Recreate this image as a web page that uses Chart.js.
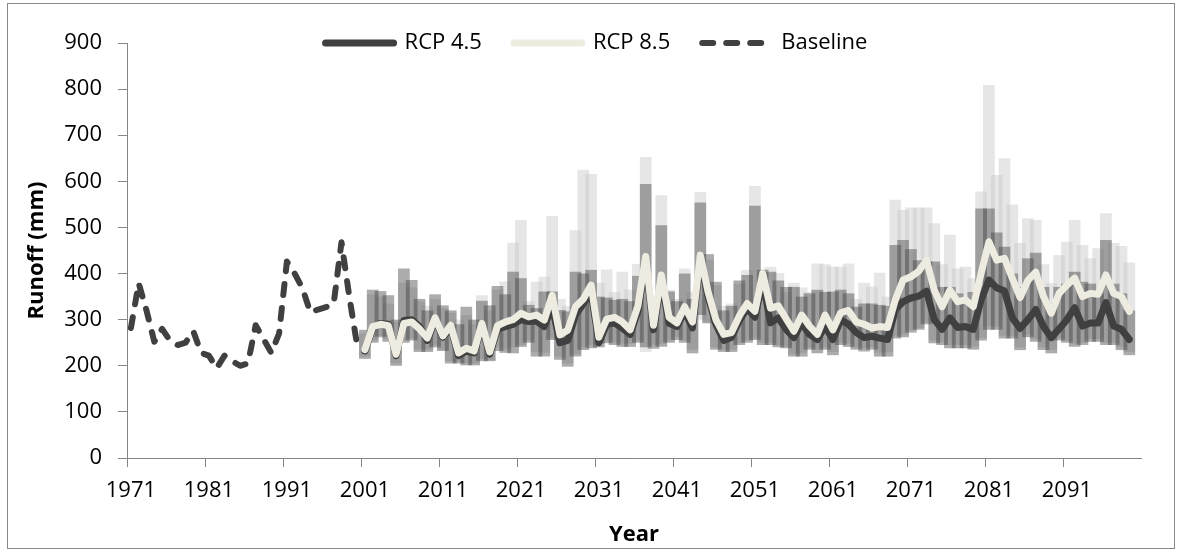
<!DOCTYPE html>
<html lang="en">
<head>
<meta charset="UTF-8">
<title>Runoff projections</title>
<script src="https://cdn.jsdelivr.net/npm/chart.js"></script>
<style>
    body { margin: 0; background: #fff; }
    #wrap { width: 1178px; height: 552px; }
</style>
</head>
<body>
<div id="wrap"><canvas id="chart-runoff"></canvas></div>
<script>
    // categories: 1971 .. 2100
    const years = Array.from({ length: 130 }, (_, i) => 1971 + i);

    // observed baseline 1971-2000
    const baseline = [282, 379, 320, 252, 280, 255, 245, 250, 275, 228,
                      222, 195, 222, 210, 200, 205, 288, 258, 228, 270,
                      426, 400, 368, 316, 322, 327, 335, 468, 350, 245];

    // ensemble means 2001-2099
    const rcp45 = [232, 282, 292, 290, 222, 298, 300, 285, 255, 300,
                   262, 284, 222, 232, 228, 288, 225, 280, 285, 290,
                   300, 296, 297, 285, 330, 250, 255, 310, 335, 360,
                   250, 290, 293, 282, 268, 318, 425, 278, 385, 292,
                   285, 318, 282, 430, 350, 290, 255, 262, 298, 325,
                   305, 385, 293, 304, 279, 261, 293, 268, 257, 286,
                   257, 300, 290, 272, 261, 264, 260, 257, 322, 339,
                   347, 351, 362, 300, 279, 304, 283, 285, 279, 343,
                   386, 369, 362, 304, 281, 300, 322, 285, 261, 280,
                   300, 326, 286, 293, 293, 337, 286, 279, 257];
    const rcp85 = [235, 285, 290, 287, 225, 292, 295, 280, 260, 304,
                   265, 288, 228, 238, 232, 292, 230, 287, 295, 300,
                   314, 306, 310, 299, 353, 267, 277, 328, 345, 375,
                   262, 301, 305, 295, 278, 330, 437, 288, 397, 305,
                   293, 328, 295, 440, 360, 300, 268, 272, 308, 335,
                   318, 400, 325, 330, 302, 275, 310, 286, 268, 310,
                   278, 315, 320, 295, 290, 282, 285, 283, 343, 386,
                   393, 405, 429, 364, 328, 364, 339, 343, 328, 400,
                   469, 429, 433, 390, 348, 385, 403, 350, 314, 357,
                   375, 390, 350, 357, 355, 397, 357, 350, 318];

    // model ranges 2001-2099
    const rcp45Min = [215, 250, 263, 252, 200, 250, 255, 230, 230, 240,
                      232, 205, 205, 201, 201, 210, 210, 232, 228, 227,
                      241, 250, 220, 220, 256, 213, 198, 220, 234, 238,
                      240, 249, 245, 241, 241, 250, 240, 237, 241, 250,
                      256, 250, 227, 310, 292, 235, 230, 230, 245, 250,
                      256, 245, 245, 240, 238, 220, 220, 235, 227, 235,
                      223, 245, 241, 235, 231, 235, 220, 220, 259, 262,
                      272, 278, 290, 249, 245, 238, 238, 238, 235, 255,
                      278, 278, 259, 259, 234, 262, 252, 234, 227, 255,
                      250, 241, 245, 252, 252, 245, 245, 234, 223];
    const rcp45Max = [278, 365, 362, 353, 300, 411, 386, 345, 320, 355,
                      331, 320, 290, 328, 300, 341, 331, 373, 355, 404,
                      390, 332, 325, 361, 361, 321, 318, 404, 400, 408,
                      350, 348, 343, 345, 340, 395, 594, 330, 505, 361,
                      340, 400, 345, 554, 442, 382, 320, 330, 385, 397,
                      547, 408, 404, 385, 371, 371, 350, 357, 365, 360,
                      361, 365, 357, 328, 335, 335, 332, 330, 462, 473,
                      453, 429, 426, 426, 371, 371, 357, 343, 360, 541,
                      541, 489, 458, 400, 371, 433, 445, 371, 335, 371,
                      378, 404, 382, 378, 357, 473, 378, 357, 320];
    const rcp85Min = [220, 255, 260, 258, 205, 255, 260, 235, 235, 245,
                      235, 210, 208, 205, 205, 215, 212, 240, 235, 240,
                      245, 255, 230, 228, 260, 220, 205, 225, 240, 245,
                      248, 255, 250, 248, 248, 255, 230, 245, 248, 255,
                      262, 255, 235, 300, 295, 240, 235, 235, 250, 255,
                      260, 250, 250, 245, 242, 225, 228, 240, 235, 240,
                      230, 250, 248, 240, 238, 240, 228, 230, 265, 268,
                      278, 282, 295, 255, 250, 245, 245, 245, 242, 260,
                      285, 285, 265, 265, 240, 268, 258, 240, 235, 260,
                      255, 248, 250, 258, 258, 250, 250, 240, 230];
    const rcp85Max = [270, 355, 350, 335, 295, 380, 370, 340, 330, 345,
                      325, 315, 300, 310, 290, 353, 320, 365, 383, 467,
                      516, 340, 382, 393, 525, 345, 330, 494, 625, 616,
                      380, 409, 360, 404, 365, 421, 653, 340, 570, 365,
                      345, 411, 360, 577, 430, 375, 330, 335, 378, 408,
                      590, 400, 415, 401, 360, 380, 370, 360, 422, 420,
                      415, 415, 422, 345, 380, 372, 402, 350, 560, 538,
                      543, 543, 543, 509, 420, 484, 411, 415, 390, 578,
                      809, 614, 650, 549, 466, 520, 516, 420, 379, 440,
                      469, 516, 462, 433, 455, 531, 466, 460, 424];

    const AXIS = '#868686';
    const DARK = '#404040';
    const CREAM = '#EEECE1';
    const LEGEND_SHIFT = 26;

    // place a series on the full year axis
    function onYears(values, firstYear) {
        const out = years.map(() => null);
        values.forEach((v, i) => { out[firstYear - 1971 + i] = v; });
        return out;
    }
    function ranges(lo, hi) {
        return onYears(lo.map((v, i) => [v, hi[i]]), 2001);
    }

    Chart.defaults.font.family = "'Open Sans', sans-serif";
    Chart.defaults.color = '#000';

    // legend sits over the top of the plot, like the original
    const frame = {
        id: 'frame',
        beforeInit(chart) {
            const lg = chart.legend;
            const fit = lg.fit;
            lg.fit = function () { fit.call(this); this.height = 43; };
            const draw = lg.draw;
            lg.draw = function () {
                const c = this.ctx;
                const bottom = this.bottom;
                this.bottom = bottom + 40;
                c.save();
                c.translate(LEGEND_SHIFT, 0);
                draw.call(this);
                c.restore();
                this.bottom = bottom;
            };
        },
        beforeDraw(chart) {
            const c = chart.ctx;
            c.save();
            c.fillStyle = '#fff';
            c.fillRect(0, 0, chart.width, chart.height);
            c.strokeStyle = '#898989';
            c.lineWidth = 1;
            c.strokeRect(7.5, 3.5, 1167, 545);
            c.restore();
        }
    };

    const lineStyle = { type: 'line', pointRadius: 0, pointHoverRadius: 0, tension: 0,
                        borderCapStyle: 'round', borderJoinStyle: 'round', spanGaps: false };
    const barStyle = { type: 'bar', grouped: false, categoryPercentage: 1, barPercentage: 1.5, borderWidth: 0 };

    new Chart(document.getElementById('chart-runoff'), {
        type: 'bar',
        data: {
            labels: years,
            datasets: [
                { ...lineStyle, label: 'RCP 4.5', data: onYears(rcp45, 2001), borderColor: DARK, backgroundColor: DARK, borderWidth: 7, order: 1 },
                { ...lineStyle, label: 'RCP 8.5', data: onYears(rcp85, 2001), borderColor: CREAM, backgroundColor: CREAM, borderWidth: 7, order: 0 },
                { ...lineStyle, label: 'Baseline', data: onYears(baseline, 1971), borderColor: DARK, backgroundColor: DARK, borderWidth: 6, borderDash: [11, 13], order: 1 },
                { ...barStyle, label: 'RCP 4.5 range', data: ranges(rcp45Min, rcp45Max), backgroundColor: 'rgba(70,70,70,0.45)', order: 2 },
                { ...barStyle, label: 'RCP 8.5 range', data: ranges(rcp85Min, rcp85Max), backgroundColor: 'rgba(200,200,200,0.45)', order: 3 }
            ]
        },
        options: {
            responsive: true,
            maintainAspectRatio: false,
            animation: false,
            layout: { padding: { left: 0, right: 37, top: 0, bottom: 0 } },
            plugins: {
                tooltip: { enabled: false },
                legend: {
                    position: 'top',
                    labels: {
                        usePointStyle: true,
                        pointStyleWidth: 68,
                        padding: 32,
                        color: '#000',
                        font: { size: 22 },
                        generateLabels: chart => chart.data.datasets.slice(0, 3).map((ds, i) => ({
                            text: ds.label,
                            fillStyle: ds.borderColor,
                            strokeStyle: ds.borderColor,
                            lineWidth: ds.borderWidth,
                            lineDash: ds.borderDash || [],
                            lineCap: 'round',
                            pointStyle: 'line',
                            hidden: false,
                            datasetIndex: i,
                            fontColor: '#000'
                        }))
                    }
                }
            },
            scales: {
                x: {
                    type: 'category',
                    offset: true,
                    grid: {
                        offset: true,
                        drawOnChartArea: false,
                        tickLength: 9,
                        color: ctx => ctx.index % 10 === 0 ? AXIS : 'rgba(0,0,0,0)'
                    },
                    border: { color: AXIS, width: 1 },
                    ticks: {
                        autoSkip: false, maxRotation: 0, minRotation: 0, padding: 11,
                        font: { size: 22 },
                        callback: (v, i) => i % 10 === 0 ? String(years[i]) : ''
                    },
                    title: { display: true, text: 'Year', font: { size: 22, weight: 'bold' }, padding: { top: 0, bottom: 4 } },
                    afterFit: s => { s.height = 94; }
                },
                y: {
                    min: 0,
                    max: 900,
                    grid: { drawOnChartArea: false, tickLength: 9, color: AXIS },
                    border: { color: AXIS, width: 1 },
                    ticks: { stepSize: 100, padding: 16, font: { size: 22 } },
                    title: { display: true, text: 'Runoff (mm)', font: { size: 22, weight: 'bold' }, padding: { top: 24 } },
                    afterFit: s => { s.width = 127; }
                }
            }
        },
        plugins: [frame]
    });
</script>
</body>
</html>
